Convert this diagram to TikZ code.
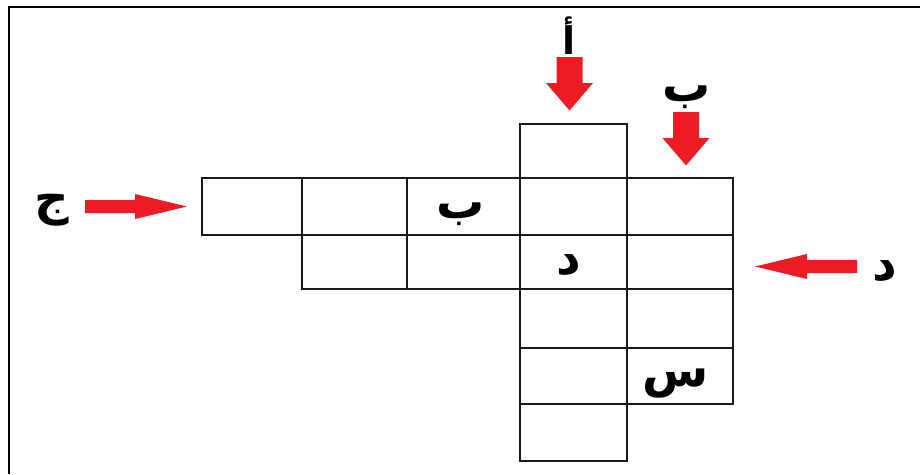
\documentclass[tikz,border=0pt]{standalone}
\usepackage{fontspec}
\TeXXeTstate=1
\newfontfamily\arabicfont[Script=Arabic]{DejaVu Sans}
\definecolor{arrowred}{HTML}{ED1C24}
\begin{document}
\begin{tikzpicture}[x=1pt,y=-1pt,
  cellbox/.style={draw=black!90, line width=1.8pt, rectangle, inner sep=0pt, outer sep=0pt},
  lbl/.style={font=\arabicfont\bfseries\fontsize{48}{52}\selectfont, inner sep=0pt, text=black},
  lblsmall/.style={lbl, font=\arabicfont\bfseries\fontsize{38}{42}\selectfont},
  downarrow/.pic={\fill[arrowred] (-13,-53.5) -- (13,-53.5) -- (13,-27.5) -- (23.5,-27.5) -- (0,0) -- (-23.5,-27.5) -- (-13,-27.5) -- cycle;},
  rightarrow/.pic={\fill[arrowred] (-102,-6.5) -- (-52,-6.5) -- (-52,-12.5) -- (0,0) -- (-52,12.5) -- (-52,6.5) -- (-102,6.5) -- cycle;}]
\useasboundingbox (0,0) rectangle (920,474);
\draw[line width=2pt] (8.5,474) -- (8.5,7) -- (920,7);
% cells: name/x1/x2/y1/y2
\foreach \n/\xa/\xb/\ya/\yb in {
  r1c4/520/627/124/178,
  r2c1/202/302/178/235, r2c2/302/407/178/235, r2c3/407/520/178/235, r2c4/520/627/178/235, r2c5/627/733/178/235,
  r3c2/302/407/235/289, r3c3/407/520/235/289, r3c4/520/627/235/289, r3c5/627/733/235/289,
  r4c4/520/627/289/348, r4c5/627/733/289/348,
  r5c4/520/627/348/404, r5c5/627/733/348/404,
  r6c4/520/627/404/461}
  \node[cellbox, minimum width=\xb pt-\xa pt, minimum height=\yb pt-\ya pt] (\n) at ({(\xa+\xb)/2},{(\ya+\yb)/2}) {};
% letters inside cells
\node[lbl] (lb) at ([xshift=-3pt,yshift=-8pt]r2c3.center) {\beginR ب\endR};
\node[lbl] (ld) at ([xshift=-5pt,yshift=-3pt]r3c4.center) {\beginR د\endR};
\node[lbl] (ls) at ([xshift=-4pt,yshift=-8pt]r5c5.center) {\beginR س\endR};
% clue labels
\node[lblsmall] (ta) at (569,36) {\beginR أ\endR};
\node[lbl] (tb) at (687,97) {\beginR ب\endR};
\node[lbl] (tj) at (52,210) {\beginR ج\endR};
\node[lbl] (td) at (885,271) {\beginR د\endR};
% arrows
\coordinate (pa) at ([xshift=-4pt,yshift=13.5pt]r1c4.north);
\coordinate (pb) at ([xshift=6pt,yshift=12.5pt]r2c5.north);
\coordinate (pj) at ([xshift=-15pt]r2c1.west);
\coordinate (pd) at ([xshift=22pt,yshift=-4.5pt]r3c5.east);
\pic at (pa) {downarrow};
\pic at (pb) {downarrow};
\pic at (pj) {rightarrow};
\pic[rotate=180] at (pd) {rightarrow};
\end{tikzpicture}
\end{document}
